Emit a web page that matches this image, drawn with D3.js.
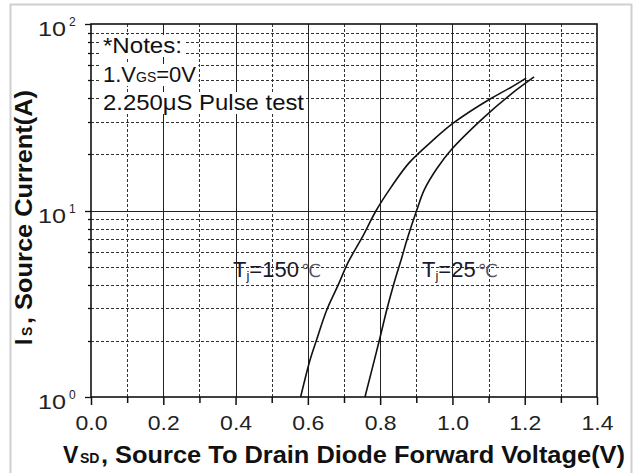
<!DOCTYPE html>
<html>
<head>
<meta charset="utf-8">
<script src="https://cdn.jsdelivr.net/npm/d3@7"></script>
<style>
  body { margin: 0; background: #fff; }
  svg text { font-family: "Liberation Sans", Arial, sans-serif; }
</style>
</head>
<body>
<svg id="chart" width="644" height="473"></svg>
<script>
// data
var xTicks = [0.0, 0.2, 0.4, 0.6, 0.8, 1.0, 1.2, 1.4];
var yDecades = [1, 10, 100];
var yExp = ["0", "1", "2"];

var v150 = [0.580, 0.606, 0.624, 0.652, 0.684, 0.712, 0.749, 0.789, 0.830, 0.880, 0.947, 1.002, 1.104, 1.159, 1.204];
var i150 = [1.0, 1.58, 2.02, 2.92, 3.99, 5.3, 7.1, 10.0, 13.3, 18.0, 23.9, 29.4, 39.6, 45.4, 51.3];

var v25 = [0.758, 0.798, 0.818, 0.837, 0.860, 0.874, 0.901, 0.922, 0.957, 0.995, 1.085, 1.159, 1.226];
var i25 = [1.0, 2.02, 2.92, 3.99, 5.6, 6.95, 10.0, 12.9, 16.8, 21.0, 31.3, 41.6, 52.0];

var svg = d3.select("#chart");

var x = d3.scaleLinear().domain([0, 1.4]).range([91, 597]);
var y = d3.scaleLog().domain([1, 100]).range([397, 24]);

// outer frame
svg.append("rect")
	.attr("x", 10.5).attr("y", 4.5)
	.attr("width", 621).attr("height", 480)
	.attr("fill", "#fff")
	.attr("stroke", "#cfcfcf")
	.attr("stroke-width", 2);

var g = svg.append("g");

// minor horizontal grid (2..9 in each decade)
var minorY = [];
[1, 10].forEach(function(d) {
	for (var k = 2; k <= 9; k++) minorY.push(d * k);
});
g.selectAll(".hminor").data(minorY).enter().append("line")
	.attr("x1", x(0)).attr("x2", x(1.4))
	.attr("y1", function(d) { return Math.round(y(d)) + 0.5; })
	.attr("y2", function(d) { return Math.round(y(d)) + 0.5; })
	.attr("stroke", "#333").attr("stroke-width", 1)
	.attr("stroke-dasharray", "3,2");

// minor vertical grid
var minorX = d3.range(1, 14, 2).map(function(d) { return d / 10; });
g.selectAll(".vminor").data(minorX).enter().append("line")
	.attr("x1", function(d) { return Math.round(x(d)) + 0.5; })
	.attr("x2", function(d) { return Math.round(x(d)) + 0.5; })
	.attr("y1", y(100)).attr("y2", y(1))
	.attr("stroke", "#333").attr("stroke-width", 1)
	.attr("stroke-dasharray", "3,2");

// major grid
g.selectAll(".vmajor").data(xTicks.slice(1, -1)).enter().append("line")
	.attr("x1", function(d) { return Math.round(x(d)) + 0.5; })
	.attr("x2", function(d) { return Math.round(x(d)) + 0.5; })
	.attr("y1", y(100)).attr("y2", y(1))
	.attr("stroke", "#222").attr("stroke-width", 1);
g.append("line")
	.attr("x1", x(0)).attr("x2", x(1.4))
	.attr("y1", Math.round(y(10)) + 0.5).attr("y2", Math.round(y(10)) + 0.5)
	.attr("stroke", "#222").attr("stroke-width", 1);

// notes with white backgrounds
var notes = g.append("g").attr("font-size", 22).attr("fill", "#111");
var n1 = notes.append("text").attr("x", 103).attr("y", 53)
	.attr("textLength", 79).attr("lengthAdjust", "spacingAndGlyphs").text("*Notes:");
var n2 = notes.append("text").attr("x", 103).attr("y", 82);
n2.append("tspan").text("1.V");
n2.append("tspan").attr("font-size", 14).text("GS");
n2.append("tspan").text("=0V");
var n3 = notes.append("text").attr("x", 103).attr("y", 110)
	.attr("textLength", 201).attr("lengthAdjust", "spacingAndGlyphs")
	.text("2.250\u03bcS Pulse test");
[n1, n2, n3].forEach(function(t) {
	var b = t.node().getBBox();
	notes.insert("rect", "text")
		.attr("x", b.x - 2).attr("y", b.y + 2)
		.attr("width", b.width + 4).attr("height", b.height - 3)
		.attr("fill", "#fff");
});

// curves
var line = d3.line()
	.x(function(d) { return x(d[0]); })
	.y(function(d) { return y(d[1]); })
	.curve(d3.curveCatmullRom);

g.append("path")
	.datum(d3.zip(v150, i150))
	.attr("d", line)
	.attr("fill", "none").attr("stroke", "#111").attr("stroke-width", 1.6);
g.append("path")
	.datum(d3.zip(v25, i25))
	.attr("d", line)
	.attr("fill", "none").attr("stroke", "#111").attr("stroke-width", 1.6);

// curve labels
function tjLabel(xx, yy, temp) {
	var t = g.append("text").attr("x", xx).attr("y", yy)
		.attr("font-size", 22).attr("fill", "#1a1a2a");
	t.append("tspan").text("T");
	t.append("tspan").attr("font-size", 13).attr("dy", 3).text("j");
	t.append("tspan").attr("dy", -3).text("=" + temp);
	t.append("tspan").attr("dx", 2).attr("fill", "#556")
		.attr("font-family", "DejaVu Sans").attr("font-size", 18).text("\u2103");
}
tjLabel(233, 277, "150");
tjLabel(422, 277, "25");

// plot frame
g.append("rect")
	.attr("x", x(0)).attr("y", y(100))
	.attr("width", x(1.4) - x(0)).attr("height", y(1) - y(100))
	.attr("fill", "none").attr("stroke", "#111").attr("stroke-width", 1.6);

// x axis
var xAxis = d3.axisBottom(x)
	.tickValues(d3.range(0, 15).map(function(d) { return d / 10; }))
	.tickSize(8)
	.tickFormat(function(d) { return xTicks.indexOf(+d.toFixed(1)) >= 0 ? d.toFixed(1) : ""; });
var xa = svg.append("g").attr("transform", "translate(0," + y(1) + ")").call(xAxis);
xa.select(".domain").remove();
xa.selectAll(".tick line").attr("stroke", "#111").attr("stroke-width", 1.5)
	.attr("y2", function(d) { return Math.round(d * 10) % 2 === 0 ? 8 : 6; });
xa.selectAll(".tick text")
	.attr("y", 18)
	.attr("font-size", 21)
	.attr("font-family", "Liberation Sans, Arial, sans-serif")
	.attr("fill", "#222")
	.attr("textLength", function(d) { return this.textContent ? 32 : null; })
	.attr("lengthAdjust", "spacingAndGlyphs");

// y axis ticks
var yTickVals = [];
[1, 10].forEach(function(d) {
	for (var k = 1; k <= 9; k++) yTickVals.push(d * k);
});
yTickVals.push(100);
var ya = svg.append("g");
ya.selectAll("line").data(yTickVals).enter().append("line")
	.attr("x1", function(d) { return yDecades.indexOf(d) >= 0 ? x(0) - 6 : x(0) - 3; })
	.attr("x2", x(0))
	.attr("y1", function(d) { return Math.round(y(d)) + 0.5; })
	.attr("y2", function(d) { return Math.round(y(d)) + 0.5; })
	.attr("stroke", "#111").attr("stroke-width", 1.3);
yDecades.forEach(function(d, i) {
	ya.append("text")
		.attr("x", 38).attr("y", y(d) + 12)
		.attr("font-size", 21).attr("fill", "#222")
		.attr("textLength", 28).attr("lengthAdjust", "spacingAndGlyphs")
		.text("10");
	ya.append("text")
		.attr("x", 69).attr("y", y(d) + 2)
		.attr("font-size", 12).attr("fill", "#222")
		.text(yExp[i]);
});

// axis titles
var xt = svg.append("g").attr("font-weight", "bold").attr("fill", "#111");
xt.append("text").attr("x", 63).attr("y", 463).attr("font-size", 23).text("V");
xt.append("text").attr("x", 80).attr("y", 463).attr("font-size", 14).text("SD");
xt.append("text").attr("x", 101).attr("y", 463).attr("font-size", 23)
	.attr("textLength", 524).attr("lengthAdjust", "spacingAndGlyphs")
	.text(", Source To Drain Diode Forward Voltage(V)");

var yt = svg.append("g").attr("font-weight", "bold").attr("fill", "#111")
	.attr("transform", "translate(32,0) rotate(-90)");
yt.append("text").attr("x", -345).attr("y", 0).attr("font-size", 23).text("I");
yt.append("text").attr("x", -336).attr("y", 0).attr("font-size", 14).text("S");
yt.append("text").attr("x", -324).attr("y", 0).attr("font-size", 23)
	.attr("textLength", 234).attr("lengthAdjust", "spacingAndGlyphs")
	.text(", Source Current(A)");
</script>
</body>
</html>
